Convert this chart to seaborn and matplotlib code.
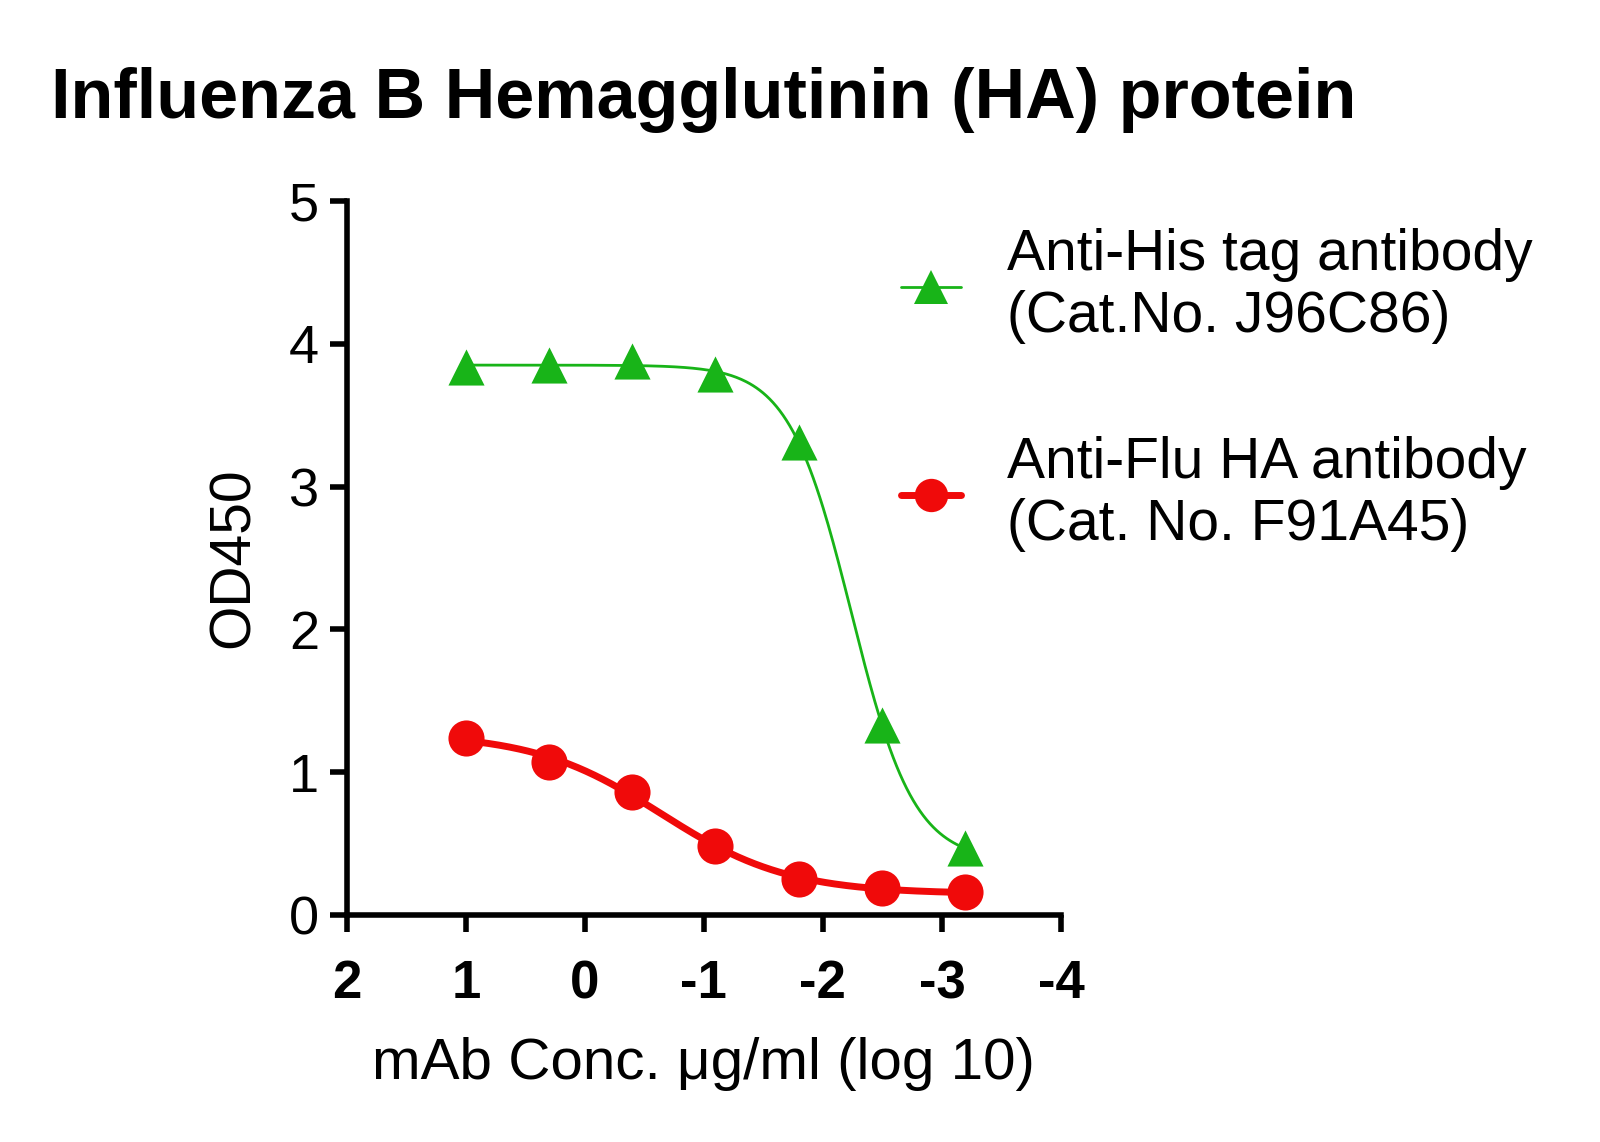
import numpy as np
import pandas as pd
import matplotlib
matplotlib.use("Agg")
import matplotlib.pyplot as plt
from matplotlib.lines import Line2D
import seaborn as sns

# data (log10 of 5-fold dilutions)
log_conc = [1.0, 0.301, -0.398, -1.097, -1.796, -2.495, -3.194]
his_od = [3.84, 3.85, 3.88, 3.79, 3.31, 1.33, 0.47]
flu_od = [1.24, 1.07, 0.86, 0.48, 0.25, 0.19, 0.16]
series_names = ["Anti-His tag antibody\n(Cat.No. J96C86)",
                "Anti-Flu HA antibody\n(Cat. No. F91A45)"]
x_ticks = [2, 1, 0, -1, -2, -3, -4]
y_ticks = [0, 1, 2, 3, 4, 5]

green = "#18B418"
red = "#F00A0A"


def fit_4pl(x, y):
    # grid search over logEC50 and hill, top/bottom solved by least squares
    x = np.asarray(x)
    y = np.asarray(y)
    cs = np.linspace(-4, 2, 601)[:, None, None]
    hs = np.linspace(0.2, 5, 481)[None, :, None]
    f = 1.0 / (1.0 + 10 ** ((cs - x) * hs))
    fm = f.mean(-1, keepdims=True)
    ym = y.mean()
    b = ((f - fm) * (y - ym)).sum(-1, keepdims=True) / (((f - fm) ** 2).sum(-1, keepdims=True) + 1e-12)
    a = ym - b * fm
    sse = ((a + b * f - y) ** 2).sum(-1)
    i, j = np.unravel_index(np.argmin(sse), sse.shape)
    c, h = cs[i, 0, 0], hs[0, j, 0]
    a0, b0 = a[i, j, 0], b[i, j, 0]
    return lambda t: a0 + b0 / (1.0 + 10 ** ((c - t) * h))


sns.set_style("ticks", {"text.color": "black", "axes.labelcolor": "black",
                        "xtick.color": "black", "ytick.color": "black",
                        "axes.edgecolor": "black"})
plt.rcParams["font.family"] = ["Liberation Sans", "DejaVu Sans"]

fig = plt.figure(figsize=(16, 11.42), dpi=100)
ax = fig.add_axes([0.2168, 0.1988, 0.4463, 0.625])

xs = np.linspace(max(log_conc), min(log_conc), 300)
fit_his = fit_4pl(log_conc, his_od)
fit_flu = fit_4pl(log_conc, flu_od)

df = pd.DataFrame({"x": log_conc, "his": his_od, "flu": flu_od})
curves = pd.DataFrame({"x": xs, "his": fit_his(xs), "flu": fit_flu(xs)})

sns.lineplot(data=curves, x="x", y="flu", ax=ax, color=red, lw=5, sort=False)
sns.lineplot(data=curves, x="x", y="his", ax=ax, color=green, lw=2.0, sort=False)
sns.scatterplot(data=df, x="x", y="flu", ax=ax, color=red, marker="o", s=26 ** 2,
                linewidth=0, zorder=4)
sns.scatterplot(data=df, x="x", y="his", ax=ax, color=green, marker="^", s=26 ** 2,
                linewidth=0, zorder=4)

ax.set_xlim(2, -4)
ax.set_ylim(0, 5)
ax.set_xticks(x_ticks)
ax.set_yticks(y_ticks)
ax.set_xticklabels([str(t) for t in x_ticks], fontweight="bold", fontsize=38)
ax.set_yticklabels([str(t) for t in y_ticks], fontsize=39)
ax.tick_params(axis="both", length=12, width=4, direction="out", color="black")
ax.tick_params(axis="x", pad=20)
ax.tick_params(axis="y", pad=8)
for s in ["top", "right"]:
    ax.spines[s].set_visible(False)
for s in ["left", "bottom"]:
    ax.spines[s].set_linewidth(4)
    ax.spines[s].set_color("black")

ax.set_xlabel("mAb Conc. \u03bcg/ml (log 10)", fontsize=42, labelpad=20)
ax.set_ylabel("OD450", fontsize=41, labelpad=20)

fig.text(0.032, 0.8966, "Influenza B Hemagglutinin (HA) protein",
         fontsize=50.5, fontweight="bold", va="baseline", color="black")

handles = [
    Line2D([], [], color=green, lw=2.0, marker="^", markersize=24, markeredgewidth=0),
    Line2D([], [], color=red, lw=5, marker="o", markersize=24, markeredgewidth=0),
]
leg = fig.legend(handles, series_names, loc="upper left",
                 bbox_to_anchor=(901 / 1600, 1 - 228 / 1142), frameon=False,
                 fontsize=41, handlelength=1.05, handletextpad=0.82, labelspacing=1.6,
                 borderpad=0, borderaxespad=0)
for t in leg.get_texts():
    t.set_linespacing(1.2)

fig.savefig("out.png", dpi=100)
